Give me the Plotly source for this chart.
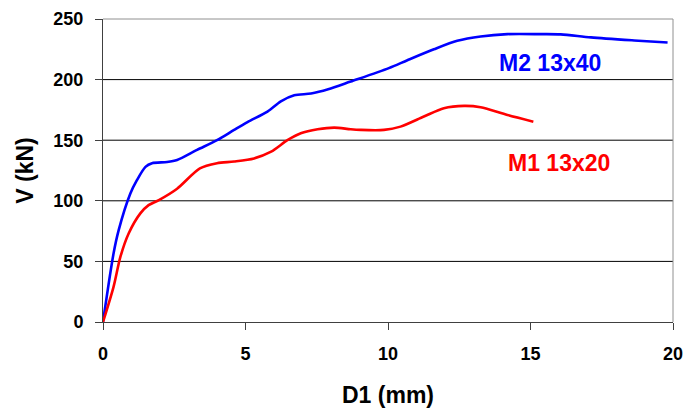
import plotly.graph_objects as go

# Data
m2_x = [0, 0.37, 0.55, 0.96, 1.19, 1.49, 1.72, 2.25, 2.6, 3.3, 4.0, 4.6, 5.07, 5.77, 6.24,
        6.71, 7.3, 7.9, 8.69, 10.03, 10.68, 11.61, 12.43, 13.25, 14.19, 15.36, 16.06,
        17.12, 18.64, 19.81]
m2_y = [0, 56.5, 75.8, 106, 117, 128, 131, 132, 133.7, 142, 150, 158.5, 165, 173.6, 182,
        187, 188.5, 192, 198.4, 209.5, 216, 225, 232, 235.6, 237.5, 237.5, 237.3,
        234.8, 232.3, 230.6]

m1_x = [0, 0.37, 0.61, 0.9, 1.31, 1.6, 1.96, 2.6, 3.4, 4.0, 4.6, 5.3, 5.9, 6.47, 6.94,
        7.53, 8.11, 8.69, 9.04, 9.86, 10.44, 11.26, 11.96, 12.67, 13.25, 14.19, 15.1]
m1_y = [0, 29, 53.7, 73, 89.6, 96.4, 100.6, 110, 126.8, 131, 132.4, 135, 140.5, 150, 155.7,
        159, 160.4, 159, 158.5, 158.5, 161.2, 169.5, 176.4, 178.3, 177.2, 170.8, 165.3]

series_names = ["M2 13x40", "M1 13x20"]
label_pos = [(15.7, 213.5), (16.0, 131)]
colors = ["#0000FF", "#FF0000"]

x_ticks = [0, 5, 10, 15, 20]
y_ticks = [0, 50, 100, 150, 200, 250]
grid_vals = [50, 100, 150, 200]

FONT = "Liberation Sans, Arial, sans-serif"

fig = go.Figure()
for xs, ys, c, n in [(m2_x, m2_y, colors[0], series_names[0]),
                     (m1_x, m1_y, colors[1], series_names[1])]:
    fig.add_trace(go.Scatter(x=xs, y=ys, mode="lines", name=n,
                             line=dict(color=c, width=2.6, shape="spline", smoothing=0.8),
                             showlegend=False))

for n, (lx, ly), c in zip(series_names, label_pos, colors):
    fig.add_annotation(x=lx, y=ly, text=n, showarrow=False,
                       font=dict(family=FONT, size=23, color=c, weight="bold"))

shapes = []
for g in grid_vals:
    shapes.append(dict(type="line", xref="paper", yref="y", x0=0, x1=1, y0=g, y1=g,
                       line=dict(color="black", width=1), layer="below"))
# plot-area border (top and right, gray)
shapes.append(dict(type="line", xref="paper", yref="paper", x0=0, x1=1, y0=1, y1=1,
                   line=dict(color="#909090", width=1)))
shapes.append(dict(type="line", xref="paper", yref="paper", x0=1, x1=1, y0=0, y1=1,
                   line=dict(color="#909090", width=1)))
fig.update_layout(shapes=shapes)

fig.update_layout(
    width=687, height=408,
    margin=dict(l=103, r=14, t=19, b=86, autoexpand=False),
    paper_bgcolor="white", plot_bgcolor="white",
    font=dict(family=FONT, color="black"),
    xaxis=dict(range=[0, 20], tickvals=x_ticks, showgrid=False, zeroline=False,
               automargin=False,
               showline=True, linecolor="#404040", linewidth=1,
               ticks="outside", ticklen=7, tickcolor="#404040",
               tickfont=dict(family=FONT, size=18, color="black", weight="bold"),
               ticklabelstandoff=8,
               title=dict(text="D1 (mm)", standoff=25,
                          font=dict(family=FONT, size=23, color="black", weight="bold"))),
    yaxis=dict(range=[0, 250], tickvals=y_ticks, showgrid=False, zeroline=False,
               automargin=False,
               showline=True, linecolor="#404040", linewidth=1,
               ticks="outside", ticklen=7, tickcolor="#404040",
               tickfont=dict(family=FONT, size=18, color="black", weight="bold"),
               ticklabelstandoff=8,
               title=dict(text="V (kN)", standoff=13,
                          font=dict(family=FONT, size=23, color="black", weight="bold"))),
)

# remove the browser's default 8px body margin so the figure fills the window
fig.write_html("out.html",
               config={"displayModeBar": False},
               post_script="document.body.style.margin='0';document.body.style.overflow='hidden';")
